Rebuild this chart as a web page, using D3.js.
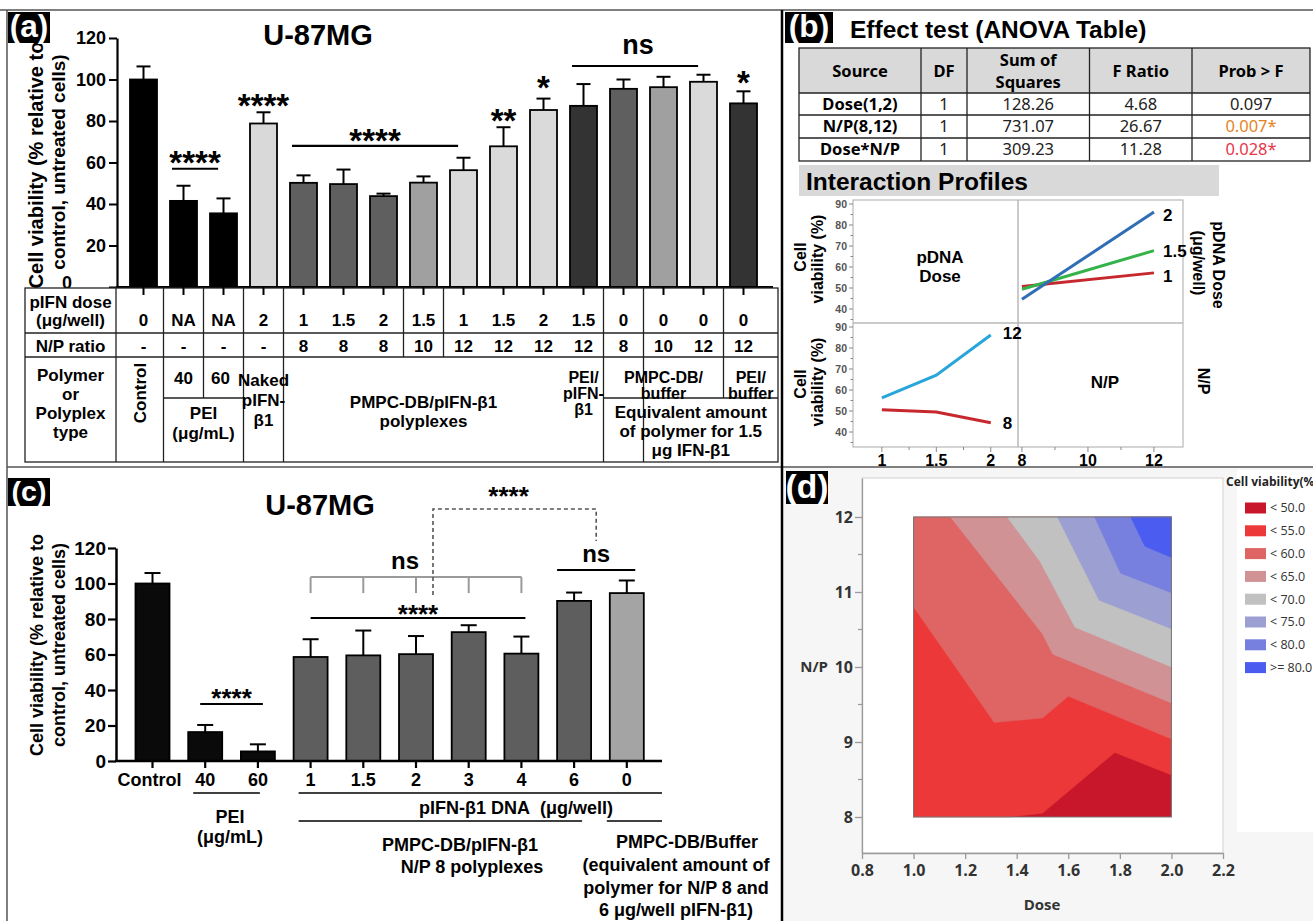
<!DOCTYPE html>
<html><head><meta charset="utf-8">
<script src="https://cdn.jsdelivr.net/npm/d3@7"></script>
<style>
body{margin:0;background:#fff;}
svg{display:block;}
</style></head><body>
<svg id="chart"></svg>
<script>
// ================= DATA =================
// Panel (a)
const aDoseLabels = ["0","NA","NA","2","1","1.5","2","1.5","1","1.5","2","1.5","0","0","0","0"];
const aNPLabels   = ["-","-","-","-","8","8","8","10","12","12","12","12","8","10","12","12"];
const aGroups     = ["ctrl","pei","pei","naked","np8","np8","np8","np10","np12","np12","np12","peiPoly","buf8","buf10","buf12","peiBuf"];
const aMeans      = [100,41.5,35.5,78.8,50.2,49.6,43.8,50.3,56.3,67.8,85.3,87.3,95.5,96.3,98.9,88.5];
const aErrors     = [6.3,7.3,7.2,5.4,3.6,7.0,1.2,3.0,6.0,9.2,5.5,10.5,4.5,5.0,3.4,5.8];
const aYTicks     = [0,20,40,60,80,100,120];
const aSigFrom    = [1,3,4,9,10,11,15];
const aSigTo      = [2,3,8,9,10,14,15];
const aSigLine    = [57,null,68,null,null,106.5,null];
const aSigText    = [63.5,91,74.5,84,100,115.5,102];
const aSigLabel   = ["****","****","****","**","*","ns","*"];

// Panel (b)
const bHeaders = ["Source","DF","Sum of|Squares","F Ratio","Prob > F"];
const bSource  = ["Dose(1,2)","N/P(8,12)","Dose*N/P"];
const bDF      = [1,1,1];
const bSS      = [128.26,731.07,309.23];
const bF       = [4.68,26.67,11.28];
const bProb    = [0.097,0.007,0.028];
const bSignif  = [false,true,true];
const ipDoseLevels = [1,1.5,2];
const ipNPLevels   = [8,12];
const ipDose1  = [50.7,57.2];   // vs N/P 8,12
const ipDose15 = [49.4,67.8];
const ipDose2  = [44.6,86.2];
const ipNP8    = [50.6,49.5,44.4]; // vs dose 1,1.5,2
const ipNP12   = [56.2,67.1,86.2];
const ipYTicks = [40,50,60,70,80,90];

// Panel (c)
const cLabels = ["Control","40","60","1","1.5","2","3","4","6","0"];
const cGroups = ["ctrl","pei","pei","poly","poly","poly","poly","poly","poly","buffer"];
const cMeans  = [100,16.3,5.4,58.6,59.5,60.2,72.6,60.5,90.2,94.6];
const cErrors = [5.9,4.0,4.0,10.0,14.0,10.2,3.9,9.6,4.7,7.1];
const cYTicks = [0,20,40,60,80,100,120];

// Panel (d) iso-lines [dose, N/P]
const dLevels = [50,55,60,65,70,75,80];
const dIso50 = [[1.37,8],[1.5,8.05],[1.78,8.86],[2.0,8.56]];
const dIso55 = [[1.0,10.8],[1.313,9.26],[1.5,9.32],[1.6,9.61],[2.0,9.04]];
const dIso60 = [[1.143,12],[1.5,10.44],[1.54,10.17],[2.0,9.52]];
const dIso65 = [[1.363,12],[1.49,11.41],[1.626,10.53],[2.0,10.0]];
const dIso70 = [[1.558,12],[1.72,10.89],[2.0,10.51]];
const dIso75 = [[1.702,12],[1.803,11.25],[2.0,10.99]];
const dIso80 = [[1.842,12],[1.897,11.61],[2.0,11.46]];
const dXTicks = [0.8,1.0,1.2,1.4,1.6,1.8,2.0,2.2];
const dYTicks = [8,9,10,11,12];

// ================= STYLE =================
const FA = "'Liberation Sans', Arial, Helvetica, sans-serif";
const FN = "'Noto Sans', 'Open Sans', sans-serif";
const FO = "'Open Sans', 'Noto Sans', sans-serif";
const aColor = {ctrl:"#000",pei:"#000",naked:"#d9d9d9",np8:"#5f5f5f",np10:"#a0a0a0",np12:"#dadada",peiPoly:"#333",buf8:"#5f5f5f",buf10:"#a0a0a0",buf12:"#dadada",peiBuf:"#333"};
const cColor = {ctrl:"#0a0a0a",pei:"#0a0a0a",poly:"#5e5e5e",buffer:"#a4a4a4"};
const dColors = ["#c8172a","#ec3838","#df6464","#d09294","#c1c1c1","#9c9fd1","#7780de","#4b5cf0"];

const W=1313,H=921;
const svg=d3.select("#chart").attr("width",W).attr("height",H);
svg.append("rect").attr("width",W).attr("height",H).attr("fill","#fff");

function txt(g,cx,cy,s,o={}){
  const fs=o.fs||17;
  const t=g.append("text")
    .attr("transform",`translate(${cx},${cy})`+(o.rot?` rotate(${o.rot})`:""))
    .attr("x",0).attr("y",(o.base!=null?o.base:0.35)*fs)
    .attr("font-family",o.ff||FA).attr("font-size",fs)
    .attr("font-weight",o.fw||"bold").attr("fill",o.fill||"#000")
    .attr("text-anchor",o.anchor||"middle").text(s);
  return t;
}
function ln(g,x1,y1,x2,y2,stroke="#000",w=1.5){
  return g.append("line").attr("x1",x1).attr("y1",y1).attr("x2",x2).attr("y2",y2).attr("stroke",stroke).attr("stroke-width",w);
}
function panelLabel(x,y,w,h,s){
  svg.append("rect").attr("x",x).attr("y",y).attr("width",w).attr("height",h).attr("fill","#000");
  txt(svg,x+w/2,y+h/2,s,{fs:h*1.02,fill:"#fff",base:0.3});
}

// panel d background
svg.append("rect").attr("x",783).attr("y",468).attr("width",530).attr("height",453).attr("fill","#f6f6f6");

// ================= PANEL A =================
const gA=svg.append("g");
const xA=d3.scaleBand().domain(d3.range(aMeans.length)).range([123.5,763.5]).paddingInner(0.325).paddingOuter(0.1625);
const yA=d3.scaleLinear().domain([0,120]).range([287,38]);
const cA=i=>xA(i)+xA.bandwidth()/2;

txt(gA,318,35,"U-87MG",{fs:29});
txt(gA,35.5,165,"Cell viability (% relative to",{fs:20,rot:-90});
txt(gA,58.5,162,"control, untreated cells)",{fs:19,rot:-90});

// error bars
aMeans.forEach((m,i)=>{
  const x=cA(i);
  ln(gA,x,yA(m),x,yA(m+aErrors[i]),"#000",2);
  ln(gA,x-7,yA(m+aErrors[i]),x+7,yA(m+aErrors[i]),"#000",2);
});
gA.selectAll("rect.bar").data(aMeans).enter().append("rect")
  .attr("x",(d,i)=>xA(i)).attr("y",d=>yA(d)).attr("width",xA.bandwidth())
  .attr("height",d=>yA(0)-yA(d)).attr("fill",(d,i)=>aColor[aGroups[i]])
  .attr("stroke","#000").attr("stroke-width",1.8);

const axA=gA.append("g").attr("transform","translate(117,0)")
  .call(d3.axisLeft(yA).tickValues(aYTicks).tickSize(8).tickSizeOuter(0).tickPadding(3));
axA.select(".domain").attr("stroke","#000").attr("stroke-width",2.2);
axA.selectAll(".tick line").attr("stroke","#000").attr("stroke-width",2);
axA.selectAll(".tick text").attr("font-size",18).attr("font-weight","bold").attr("font-family",FA).attr("fill","#000");
axA.selectAll(".tick text").filter(d=>d===0).attr("x",-45).attr("dy","0.1em");
ln(gA,116,yA(0),773,yA(0),"#000",2.2);

// significance
aSigLabel.forEach((lab,k)=>{
  let x=cA(aSigFrom[k]);
  if(aSigLine[k]!=null){
    const x1=xA(aSigFrom[k])+2, x2=xA(aSigTo[k])+xA.bandwidth()*0.3;
    ln(gA,x1,yA(aSigLine[k]),x2,yA(aSigLine[k]),"#000",2.2);
    x=(x1+x2)/2;
  }
  if(lab==="ns") txt(gA,x+3,yA(aSigText[k]),lab,{fs:27,base:0.26});
  else txt(gA,x,yA(aSigText[k]),lab,{fs:33,base:0.58});
});

// table
const tT=288,tR1=333,tR2=357,tSub=398,tB=462,tL=25,tRgt=778;
const mid=i=>(cA(i)+cA(i+1))/2;
const LC="#222";
gA.append("rect").attr("x",tL).attr("y",tT).attr("width",tRgt-tL).attr("height",tB-tT).attr("fill","#fff").attr("stroke",LC).attr("stroke-width",1.3);
ln(gA,tL,tR1,tRgt,tR1,LC,1.3);
ln(gA,tL,tR2,tRgt,tR2,LC,1.3);
ln(gA,116,tT,116,tB,LC,1.3);
[0,2,3,11,12].forEach(i=>ln(gA,mid(i),tT,mid(i),tB,LC,1.3));
[6,7,14].forEach(i=>ln(gA,mid(i),tT,mid(i),tR2,LC,1.3));
ln(gA,mid(1),tT,mid(1),tSub,LC,1.3);
ln(gA,mid(0),tSub,mid(2),tSub,LC,1.3);
ln(gA,mid(11),tSub,tRgt,tSub,LC,1.3);
ln(gA,mid(14),tR2,mid(14),tSub,LC,1.3);
// x ticks
aMeans.forEach((d,i)=>ln(gA,cA(i),yA(0),cA(i),yA(0)+8,"#000",2));

const lx=(tL+116)/2;
txt(gA,lx,302,"pIFN dose",{fs:17});
txt(gA,lx,320,"(\u03bcg/well)",{fs:17});
txt(gA,lx,346,"N/P ratio",{fs:17});
["Polymer","or","Polyplex","type"].forEach((s,k)=>txt(gA,lx,375+k*19,s,{fs:17}));
aDoseLabels.forEach((s,i)=>txt(gA,cA(i),320,s,{fs:17}));
aNPLabels.forEach((s,i)=>txt(gA,cA(i),346,s,{fs:17}));
txt(gA,(116+mid(0))/2,393,"Control",{fs:17,rot:-90});
txt(gA,(mid(0)+mid(1))/2,378,"40",{fs:17});
txt(gA,(mid(1)+mid(2))/2-3,378,"60",{fs:17});
txt(gA,(mid(0)+mid(2))/2,413,"PEI",{fs:17});
txt(gA,(mid(0)+mid(2))/2,433,"(\u03bcg/mL)",{fs:17});
["Naked","pIFN-","\u03b21"].forEach((s,k)=>txt(gA,(mid(2)+mid(3))/2,380+k*20,s,{fs:17}));
txt(gA,(mid(3)+mid(10))/2,402,"PMPC-DB/pIFN-\u03b21",{fs:17});
txt(gA,(mid(3)+mid(10))/2,421,"polyplexes",{fs:17});
["PEI/","pIFN-","\u03b21"].forEach((s,k)=>txt(gA,(mid(10)+mid(11))/2,377+k*16,s,{fs:16}));
txt(gA,(mid(11)+mid(14))/2,377,"PMPC-DB/",{fs:16});
txt(gA,(mid(11)+mid(14))/2,393,"buffer",{fs:16});
txt(gA,(mid(14)+tRgt)/2,377,"PEI/",{fs:16});
txt(gA,(mid(14)+tRgt)/2,393,"buffer",{fs:16});
["Equivalent amount","of polymer for 1.5","\u03bcg IFN-\u03b21"].forEach((s,k)=>txt(gA,(mid(11)+tRgt)/2,412+k*19,s,{fs:17}));

// ================= PANEL B =================
const gB=svg.append("g");
txt(gB,850,29,"Effect test (ANOVA Table)",{fs:24.5,anchor:"start"});
const bx=[799,921,967,1089.5,1192,1310], by=[48,93,115,138,161];
gB.append("rect").attr("x",bx[0]).attr("y",by[0]).attr("width",bx[5]-bx[0]).attr("height",by[1]-by[0]).attr("fill","#d9d9d9");
gB.append("rect").attr("x",bx[0]).attr("y",by[0]).attr("width",bx[5]-bx[0]).attr("height",by[4]-by[0]).attr("fill","none").attr("stroke","#222").attr("stroke-width",1.3);
by.slice(1,4).forEach(y=>ln(gB,bx[0],y,bx[5],y,"#222",1.3));
bx.slice(1,5).forEach(x=>ln(gB,x,by[0],x,by[4],"#222",1.3));
const bcx=d3.range(5).map(k=>(bx[k]+bx[k+1])/2);
bHeaders.forEach((h,k)=>{
  const parts=h.split("|");
  if(parts.length===1) txt(gB,bcx[k],71,h,{ff:FN,fs:16.5});
  else {txt(gB,bcx[k],60,parts[0],{ff:FN,fs:16.5});txt(gB,bcx[k],82,parts[1],{ff:FN,fs:16.5});}
});
const pCol=["#222","#e5841f","#e8364a"];
bSource.forEach((s,r)=>{
  const cy=(by[r+1]+by[r+2])/2;
  txt(gB,bcx[0],cy,s,{ff:FN,fs:16.5});
  txt(gB,bcx[1],cy,String(bDF[r]),{ff:FN,fs:16.5,fw:"normal",fill:"#222"});
  txt(gB,bcx[2],cy,bSS[r].toFixed(2),{ff:FN,fs:16.5,fw:"normal",fill:"#222"});
  txt(gB,bcx[3],cy,bF[r].toFixed(2),{ff:FN,fs:16.5,fw:"normal",fill:"#222"});
  txt(gB,bcx[4],cy,bProb[r].toFixed(3)+(bSignif[r]?"*":""),{ff:FN,fs:16.5,fw:"normal",fill:pCol[r]});
});
gB.append("rect").attr("x",799).attr("y",165).attr("width",420).attr("height",31).attr("fill","#d9d9d9");
txt(gB,806,181,"Interaction Profiles",{fs:24.5,anchor:"start"});

// interaction profile grid
const ipX1=d3.scaleLinear().domain([0.735,2.25]).range([853,1018]);
const ipX2=d3.scaleLinear().domain([7.88,12.88]).range([1018,1183]);
const ipYT=d3.scaleLinear().domain([40,90]).range([309,204]);
const ipYB=d3.scaleLinear().domain([40,90]).range([432,327]);
const GC="#b8b8b8";
gB.append("rect").attr("x",853).attr("y",200).attr("width",330).attr("height",247).attr("fill","#fff").attr("stroke",GC).attr("stroke-width",1.2);
ln(gB,1018,200,1018,447,GC,1.5);
ln(gB,853,323,1183,323,GC,1.5);
[ipYT,ipYB].forEach(ys=>{
  d3.range(35,92.5,5).forEach(v=>{
    const y=ys(v); if(y<ys.range()[1]-4||y>ys.range()[0]+12) return;
    const major=v%10===0;
    ln(gB,853-(major?4:2.5),y,853,y,"#888",1);
  });
  ipYTicks.forEach(v=>txt(gB,847,ys(v),String(v),{fs:10.5,fill:"#555",anchor:"end"}));
});
[1,1.25,1.5,1.75,2].forEach(v=>ln(gB,ipX1(v),447,ipX1(v),447+(v%0.5===0?5:3),"#888",1));
[8,9,10,11,12].forEach(v=>ln(gB,ipX2(v),447,ipX2(v),447+(v%2===0?5:3),"#888",1));
ipDoseLevels.forEach(v=>txt(gB,ipX1(v),460,String(v),{fs:16}));
ipNPLevels.concat([10]).forEach(v=>txt(gB,ipX2(v),460,String(v),{fs:16}));

const line=d3.line();
const ipDoseSeries=[[ipDose1,"#c6282e","1"],[ipDose15,"#35b24a","1.5"],[ipDose2,"#2f6db5","2"]];
ipDoseSeries.forEach(([vals,col])=>{
  gB.append("path").attr("d",line(vals.map((v,k)=>[ipX2(ipNPLevels[k]),ipYT(v)]))).attr("fill","none").attr("stroke",col).attr("stroke-width",3);
});
ipDoseSeries.forEach(([vals,col,lab])=>txt(gB,ipX2(12)+9,ipYT(vals[1])+(lab==="1"?3:lab==="2"?3:0),lab,{fs:17,anchor:"start"}));
const ipNPSeries=[[ipNP8,"#c6282e","8"],[ipNP12,"#29a6d9","12"]];
ipNPSeries.forEach(([vals,col,lab])=>{
  gB.append("path").attr("d",line(vals.map((v,k)=>[ipX1(ipDoseLevels[k]),ipYB(v)]))).attr("fill","none").attr("stroke",col).attr("stroke-width",3);
  txt(gB,ipX1(2)+12,ipYB(vals[2])+(lab==="8"?0:-2),lab,{fs:17,anchor:"start"});
});
txt(gB,940,257,"pDNA",{fs:17});
txt(gB,940,276,"Dose",{fs:17});
txt(gB,1105,382,"N/P",{fs:17});
[[257,259],[384,382]].forEach(([c1,c2])=>{
  txt(gB,800,c1,"Cell",{fs:16,rot:-90});
  txt(gB,817,c2,"viability (%)",{fs:16,rot:-90});
});
txt(gB,1219,265,"pDNA Dose",{fs:16,rot:90});
txt(gB,1199,263,"(\u03bcg/well)",{fs:16,rot:90});
txt(gB,1204,381,"N/P",{fs:16,rot:90});

// ================= PANEL C =================
const gC=svg.append("g");
const xC=d3.scaleBand().domain(d3.range(cMeans.length)).range([126.15,653.15]).paddingInner(0.355).paddingOuter(0.1775);
const yC=d3.scaleLinear().domain([0,120]).range([761,548]);
const cC=i=>xC(i)+xC.bandwidth()/2;
txt(gC,320,505,"U-87MG",{fs:29});
txt(gC,37,645,"Cell viability (% relative to",{fs:18,rot:-90});
txt(gC,59,645,"control, untreated cells)",{fs:18,rot:-90});

cMeans.forEach((m,i)=>{
  const x=cC(i);
  ln(gC,x,yC(m),x,yC(m+cErrors[i]),"#000",2);
  ln(gC,x-8,yC(m+cErrors[i]),x+8,yC(m+cErrors[i]),"#000",2);
});
gC.selectAll("rect.bar").data(cMeans).enter().append("rect")
  .attr("x",(d,i)=>xC(i)).attr("y",d=>yC(d)).attr("width",xC.bandwidth())
  .attr("height",d=>yC(0)-yC(d)).attr("fill",(d,i)=>cColor[cGroups[i]])
  .attr("stroke","#000").attr("stroke-width",1.8);
const axC=gC.append("g").attr("transform","translate(116,0)")
  .call(d3.axisLeft(yC).tickValues(cYTicks).tickSize(8).tickSizeOuter(0).tickPadding(2));
axC.select(".domain").attr("stroke","#000").attr("stroke-width",2.5);
axC.selectAll(".tick line").attr("stroke","#000").attr("stroke-width",2.2);
axC.selectAll(".tick text").attr("font-size",19).attr("font-weight","bold").attr("font-family",FA).attr("fill","#000");
ln(gC,115,yC(0),662,yC(0),"#000",2.5);
cLabels.forEach((s,i)=>{
  ln(gC,cC(i),yC(0),cC(i),yC(0)+7,"#000",2.2);
  txt(gC,cC(i)+(i===0?-3:0),780,s,{fs:18});
});
// group lines & texts
ln(gC,xC(1)+5,793,cC(2)+2,793,"#000",1.6);
ln(gC,xC(3)+5,793,662,793,"#000",1.6);
ln(gC,xC(3)+5,821,cC(8)+8,821,"#000",1.6);
ln(gC,xC(9)-3,821,662,821,"#000",1.6);
txt(gC,230,817,"PEI",{fs:18});
txt(gC,230,837,"(\u03bcg/mL)",{fs:18});
txt(gC,516,808,"pIFN-\u03b21 DNA\u00a0 (\u03bcg/well)",{fs:18});
txt(gC,460,845,"PMPC-DB/pIFN-\u03b21",{fs:18});
txt(gC,472,867,"N/P 8 polyplexes",{fs:18});
["PMPC-DB/Buffer","(equivalent amount of","polymer for N/P 8 and","6 \u03bcg/well pIFN-\u03b21)"].forEach((s,k)=>txt(gC,k===0?687:676,842+k*22.7,s,{fs:18}));

// significance c
const stars=(x,v)=>txt(gC,x,yC(v),"****",{fs:26,base:0.58});
ln(gC,cC(1)-5,yC(32.1),cC(2)+5,yC(32.1),"#000",2);
stars((cC(1)+cC(2))/2,38.9);
ln(gC,cC(3),yC(80.6),cC(7)+4,yC(80.6),"#000",2);
stars((cC(3)+cC(7))/2+2,86.2);
// grey ns bracket
ln(gC,cC(3),yC(103.7),cC(7),yC(103.7),"#9a9a9a",2);
d3.range(3,8).forEach(i=>ln(gC,cC(i),yC(103.7),cC(i),yC(94.6),"#9a9a9a",2));
txt(gC,405,yC(111.5),"ns",{fs:24,base:0.26});
const nsX1=xC(8), nsX2=xC(9)+xC.bandwidth()*0.75;
ln(gC,nsX1,yC(107.6),nsX2,yC(107.6),"#000",2);
txt(gC,(nsX1+nsX2)/2,yC(115.5),"ns",{fs:24,base:0.26});
// dashed bracket
const dx1=xC(5)+xC.bandwidth(), dx2=(nsX1+nsX2)/2;
gC.append("path").attr("d",d3.line()([[dx1,yC(93.5)],[dx1,yC(142)],[dx2,yC(142)],[dx2,yC(124)]]))
  .attr("fill","none").attr("stroke","#555").attr("stroke-width",1.6).attr("stroke-dasharray","4,3");
stars((dx1+dx2)/2-6,152.7);

// ================= PANEL D =================
const gD=svg.append("g");
const xD=d3.scaleLinear().domain([0.8,2.2]).range([862,1223]);
const yD=d3.scaleLinear().domain([7.52,12.52]).range([853,478]);
gD.append("rect").attr("x",862).attr("y",478).attr("width",361).attr("height",375).attr("fill","#fff").attr("stroke","#cfcfcf");
gD.append("rect").attr("x",1237).attr("y",470).attr("width",76).attr("height",362).attr("fill","#fff");
const dDose=[1,2], dNP=[8,12];
gD.append("rect").attr("x",xD(dDose[0])).attr("y",yD(dNP[1])).attr("width",xD(dDose[1])-xD(dDose[0])).attr("height",yD(dNP[0])-yD(dNP[1])).attr("fill",dColors[0]);
const isoLines=[dIso50,dIso55,dIso60,dIso65,dIso70,dIso75,dIso80];
isoLines.forEach((pts,i)=>{
  const s=pts[0];
  const poly=pts.slice();
  poly.push([dDose[1],dNP[1]]);
  if(s[1]<dNP[1]) poly.push([dDose[0],dNP[1]]);
  if(s[1]===dNP[0]) poly.push([dDose[0],dNP[0]]);
  gD.append("path").attr("d",d3.line()(poly.map(p=>[xD(p[0]),yD(p[1])]))+"Z")
    .attr("fill",dColors[i+1]).attr("stroke",dColors[i+1]).attr("stroke-width",0.5);
});
gD.append("rect").attr("x",xD(dDose[0])).attr("y",yD(dNP[1])).attr("width",xD(dDose[1])-xD(dDose[0])).attr("height",yD(dNP[0])-yD(dNP[1])).attr("fill","none").attr("stroke","#777").attr("stroke-width",1);

const axDX=gD.append("g").attr("transform","translate(0,853)").call(d3.axisBottom(xD).tickValues(dXTicks).tickFormat(d3.format(".1f")).tickSize(6).tickSizeOuter(0).tickPadding(6));
const axDY=gD.append("g").attr("transform","translate(862,0)").call(d3.axisLeft(yD).tickValues(dYTicks).tickFormat(d3.format("d")).tickSize(7).tickSizeOuter(0).tickPadding(2));
[axDX,axDY].forEach(a=>{
  a.select(".domain").attr("stroke","#9a9a9a").attr("stroke-width",1.3);
  a.selectAll(".tick line").attr("stroke","#9a9a9a").attr("stroke-width",1.3);
  a.selectAll(".tick text").attr("font-size",16).attr("font-weight","bold").attr("font-family",FO).attr("fill","#333");
});
[8.5,9.5,10.5,11.5].forEach(v=>ln(gD,858,yD(v),862,yD(v),"#9a9a9a",1.2));
txt(gD,828,667,"N/P",{ff:FO,fs:15,anchor:"end",fill:"#333"});
txt(gD,1042,905,"Dose",{ff:FO,fs:15,fill:"#333"});
// legend
txt(gD,1226,482,"Cell viability(%)",{ff:FO,fs:12,anchor:"start",fill:"#222"});
const legLabels=dLevels.map(l=>"< "+l.toFixed(1)).concat([">= "+dLevels[dLevels.length-1].toFixed(1)]);
legLabels.forEach((s,k)=>{
  const cy=508+k*22.8;
  gD.append("rect").attr("x",1245).attr("y",cy-5.5).attr("width",21).attr("height",11).attr("fill",dColors[k]);
  txt(gD,1270,cy,s,{ff:FO,fs:12.5,fw:"normal",anchor:"start",fill:"#333"});
});

// ================= FRAMES & LABELS =================
ln(svg,0,10,W,10,"#555",1.5);
ln(svg,7,10,7,H,"#555",1.5);
ln(svg,7,467,W,467,"#555",1.5);
ln(svg,782,10,782,H,"#000",2.5);
panelLabel(8,12,42,31,"(a)");
panelLabel(785,12,48,31,"(b)");
panelLabel(8,478,42,28,"(c)");
panelLabel(786,471,42,33,"(d)");
</script>
</body></html>
